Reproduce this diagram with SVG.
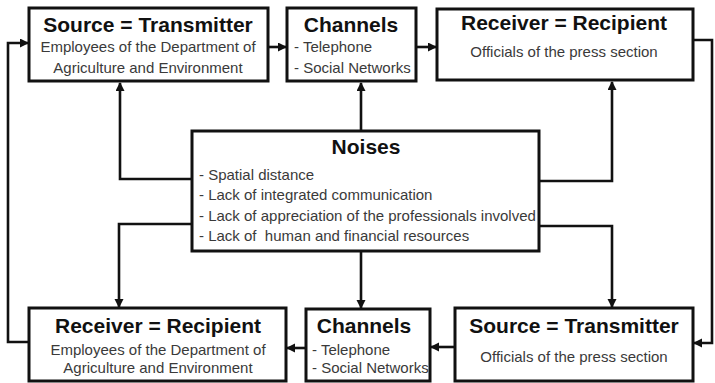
<svg xmlns="http://www.w3.org/2000/svg" width="715" height="383" viewBox="0 0 715 383">
<style>
.box{fill:#fff;stroke:#111;stroke-width:3}
.t{font-family:"Liberation Sans",Arial,sans-serif;font-weight:bold;font-size:21px;fill:#111;text-anchor:middle}
.s{font-family:"Liberation Sans",Arial,sans-serif;font-size:15px;fill:#3a3a3a;white-space:pre}
.c{text-anchor:middle}
.ln{fill:none;stroke:#111;stroke-width:2.6;marker-end:url(#ah)}
</style>
<defs>
<marker id="ah" markerUnits="userSpaceOnUse" markerWidth="10" markerHeight="10" refX="8" refY="4.5" orient="auto">
<path d="M0,0 L9,4.5 L0,9 z" fill="#111"/>
</marker>
</defs>
<rect width="715" height="383" fill="#fff"/>
<g id="connectors">
<path class="ln" d="M29,342 H8 V43 H28"/>
<path class="ln" d="M268,47 H286"/>
<path class="ln" d="M416,47 H436"/>
<path class="ln" d="M693,40 H712 V343 H694"/>
<path class="ln" d="M455,347 H431"/>
<path class="ln" d="M306,348 H287"/>
<path class="ln" d="M192,179 H120 V83"/>
<path class="ln" d="M361,131 V83"/>
<path class="ln" d="M539,181 H612 V82"/>
<path class="ln" d="M192,224 H119 V307"/>
<path class="ln" d="M361,251 V308"/>
<path class="ln" d="M539,226 H612 V307"/>
</g>
<g id="source-top">
<rect class="box" x="29" y="8" width="239" height="73"/>
<text class="t" x="148" y="32">Source = Transmitter</text>
<text class="s c" x="148" y="52">Employees of the Department of</text>
<text class="s c" x="148" y="73">Agriculture and Environment</text>
</g>
<g id="channels-top">
<rect class="box" x="287" y="8" width="129" height="73"/>
<text class="t" x="351" y="32">Channels</text>
<text class="s" x="294" y="52">- Telephone</text>
<text class="s" x="294" y="73">- Social Networks</text>
</g>
<g id="receiver-top">
<rect class="box" x="437" y="9" width="256" height="71"/>
<text class="t" x="564" y="30">Receiver = Recipient</text>
<text class="s c" x="564" y="57">Officials of the press section</text>
</g>
<g id="noises">
<rect class="box" x="192" y="131" width="347" height="120"/>
<text class="t" x="366" y="154">Noises</text>
<text class="s" x="199" y="180">- Spatial distance</text>
<text class="s" x="199" y="200">- Lack of integrated communication</text>
<text class="s" x="199" y="221">- Lack of appreciation of the professionals involved</text>
<text class="s" x="199" y="241" xml:space="preserve">- Lack of  human and financial resources</text>
</g>
<g id="receiver-bottom">
<rect class="box" x="29" y="308" width="257" height="73"/>
<text class="t" x="158" y="333">Receiver = Recipient</text>
<text class="s c" x="158" y="355">Employees of the Department of</text>
<text class="s c" x="158" y="373">Agriculture and Environment</text>
</g>
<g id="channels-bottom">
<rect class="box" x="306" y="309" width="124" height="72"/>
<text class="t" x="364" y="333">Channels</text>
<text class="s" x="312" y="355">- Telephone</text>
<text class="s" x="312" y="373">- Social Networks</text>
</g>
<g id="source-bottom">
<rect class="box" x="455" y="308" width="238" height="73"/>
<text class="t" x="574" y="333">Source = Transmitter</text>
<text class="s c" x="574" y="362">Officials of the press section</text>
</g>
</svg>
